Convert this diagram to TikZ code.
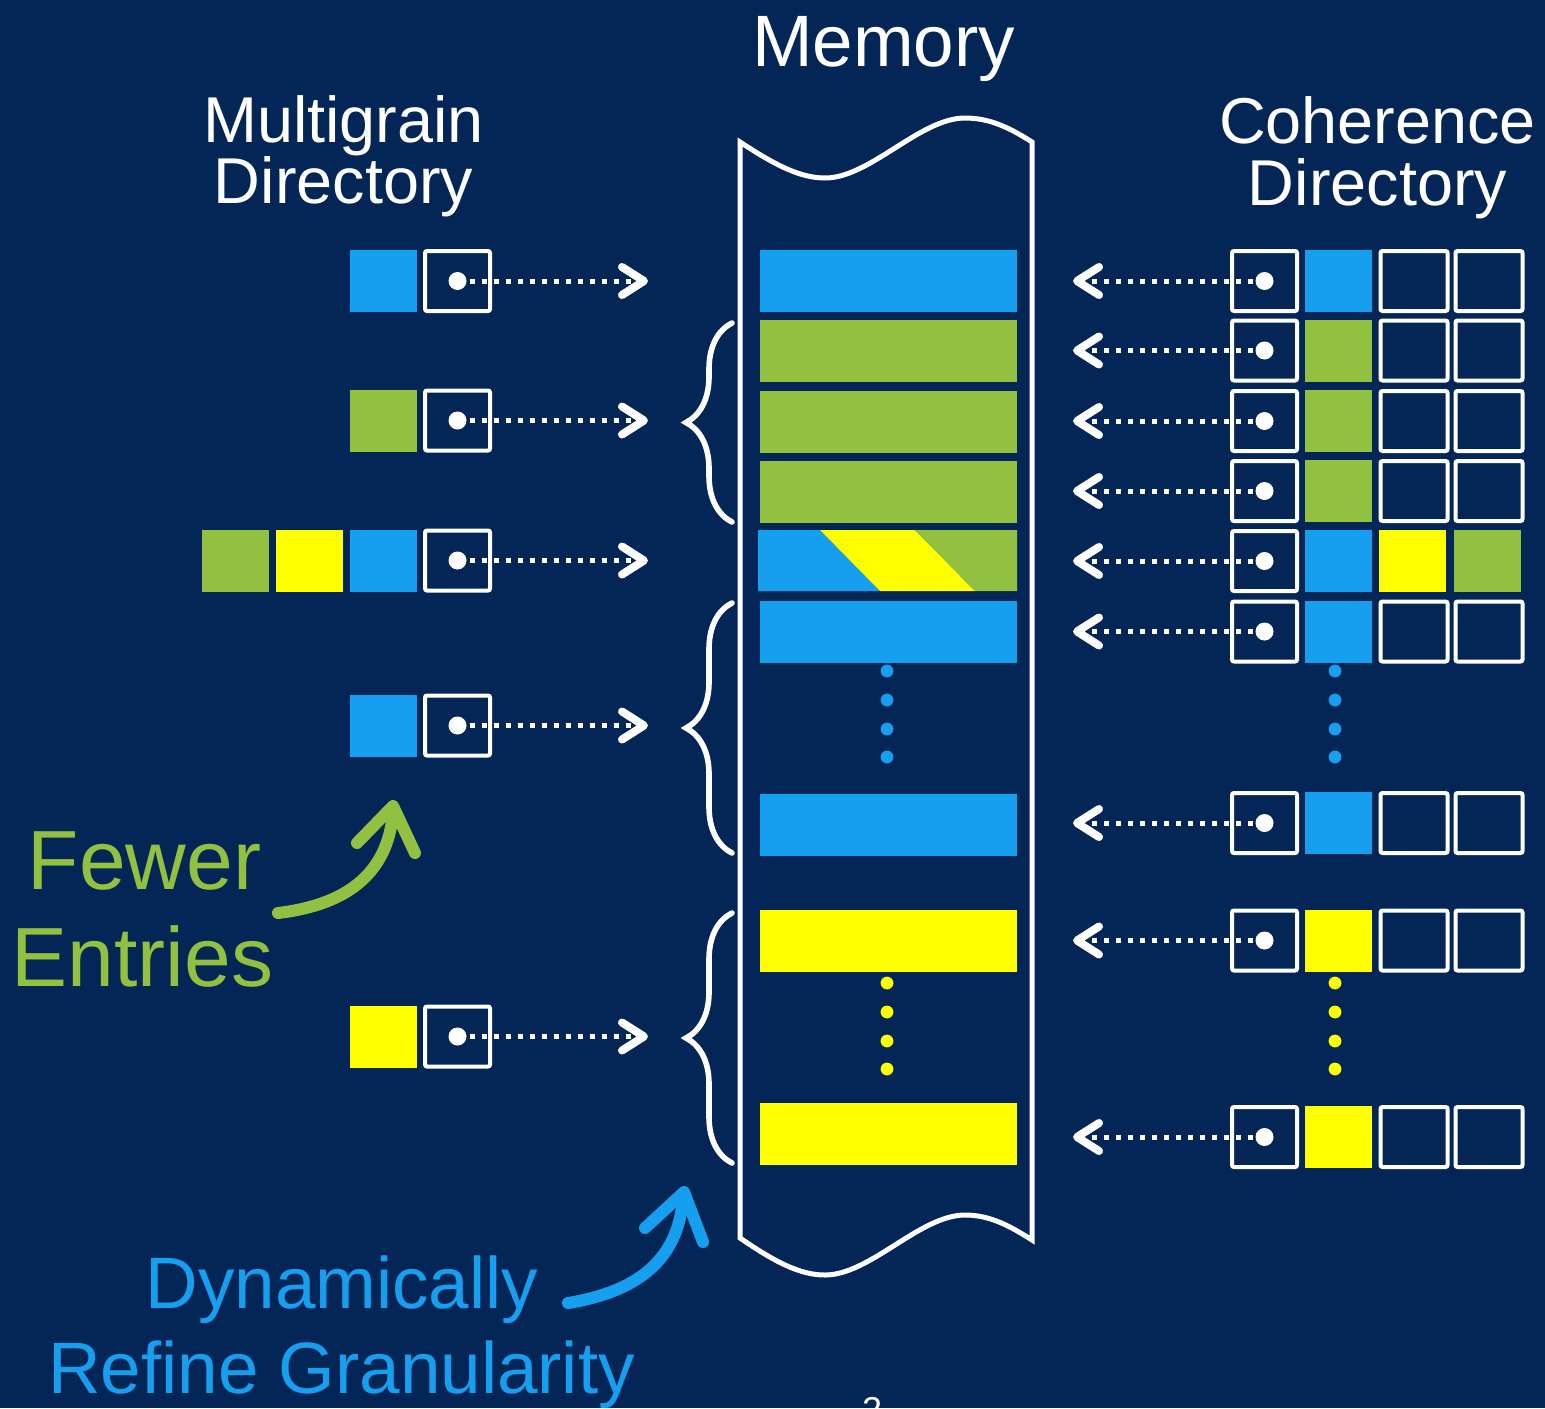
\documentclass[tikz,border=0pt]{standalone}
\usepackage{fontspec}
\setmainfont{Liberation Sans}
\usetikzlibrary{arrows.meta,decorations.pathreplacing}

\definecolor{bgnavy}{RGB}{3,38,86}
\definecolor{mblue}{RGB}{21,159,238}
\definecolor{mgreen}{RGB}{146,192,65}
\definecolor{myellow}{RGB}{255,255,0}

\tikzset{
  lbl/.style={anchor=base, inner sep=0pt, text=white},
  blk/.style={minimum width=128.5pt, minimum height=31pt, inner sep=0pt, outer sep=0pt},
  cell/.style={minimum width=33.5pt, minimum height=31pt, inner sep=0pt, outer sep=0pt},
  ptrbox/.style={draw=white, line width=2pt, rounded corners=1pt, minimum width=32.5pt, minimum height=30pt, inner sep=0pt},
  emptybox/.style={ptrbox, minimum width=33.5pt},
  ptr/.style={white, line width=2.5pt, dash pattern=on 2.5pt off 3.5pt,
    -{Straight Barb[length=11pt, width=14pt, line width=4pt, round]}},
  membrace/.style={white, line width=2.8pt, line cap=round, decorate, decoration={brace, amplitude=23pt}},
  scrawl/.style={line width=6pt, line cap=round, line join=round}
}

\begin{document}
\begin{tikzpicture}[x=0.5pt, y=-0.5pt]
  \useasboundingbox[fill=bgnavy] (0,0) rectangle (1545,1408);

  % titles
  \node[lbl, font=\fontsize{36.4pt}{40pt}\selectfont] (memtitle) at (883.5,66) {Memory};
  \node[lbl, font=\fontsize{32.4pt}{36pt}\selectfont] (mgtitlea) at (343.5,142) {Multigrain};
  \node[lbl, font=\fontsize{32.4pt}{36pt}\selectfont] (mgtitleb) at (343.5,203) {Directory};
  \node[lbl, font=\fontsize{32.4pt}{36pt}\selectfont] (cdtitlea) at (1377.5,143) {Coherence};
  \node[lbl, font=\fontsize{32.4pt}{36pt}\selectfont] (cdtitleb) at (1377.5,205) {Directory};

  % memory column
  \draw[white, line width=2.5pt]
    (740,142) .. controls (775,165) and (800,178) .. (825,178)
    .. controls (870,178) and (920,118) .. (965,118)
    .. controls (990,118) and (1010,128) .. (1032,142)
    -- (1032,1240)
    .. controls (1010,1226) and (990,1215) .. (965,1215)
    .. controls (920,1215) and (870,1275) .. (825,1275)
    .. controls (800,1275) and (775,1262) .. (740,1238) -- cycle;

  % memory blocks
  \foreach \n/\y/\c in {1/281/mblue, 2/350.5/mgreen, 3/421.5/mgreen, 4/491.5/mgreen,
                        6/631.5/mblue, 7/825/mblue, 8/940.5/myellow, 9/1134/myellow}
    \node[blk, fill=\c] (m\n) at (888.5,\y) {};
  \node[blk, minimum width=129.5pt] (m5) at (887.5,560.5) {};
  \fill[mblue] (758,530) -- (820,530) -- (880,591) -- (758,591) -- cycle;
  \fill[myellow] (820,530) -- (915,530) -- (975,591) -- (880,591) -- cycle;
  \fill[mgreen] (915,530) -- (1017,530) -- (1017,591) -- (975,591) -- cycle;

  \foreach \y in {671,700,729,757} {
    \fill[mblue] (887,\y) circle (3.2pt);
    \fill[mblue] (1335,\y) circle (3.2pt);
  }
  \foreach \y in {983,1012,1041,1069} {
    \fill[myellow] (887,\y) circle (3.2pt);
    \fill[myellow] (1335,\y) circle (3.2pt);
  }

  % braces
  \draw[membrace] (732,522) -- (732,323);
  \draw[membrace] (732,853) -- (732,603);
  \draw[membrace] (732,1163) -- (732,913);

  % multigrain directory
  \foreach \n/\y/\c in {1/281/mblue, 2/420.5/mgreen, 3/560.5/mblue, 4/725.5/mblue, 5/1036.5/myellow} {
    \node[cell, fill=\c] (mc\n) at (383.5,\y) {};
    \node[ptrbox] (mp\n) at (457.5,\y) {};
    \coordinate (ma\n) at (648,\y);
    \draw[ptr] (mp\n.center) -- (ma\n);
    \fill[white] (mp\n.center) circle (4.5pt);
  }
  \node[cell, fill=mgreen] (mc3a) at (235,560.5) {};
  \node[cell, fill=myellow] (mc3b) at (309,560.5) {};

  % coherence directory
  \foreach \n/\y/\c in {1/281/mblue, 2/350.5/mgreen, 3/421/mgreen, 4/491/mgreen, 5/561/mblue,
                        6/631.5/mblue, 7/823/mblue, 8/940.5/myellow, 9/1137/myellow} {
    \node[ptrbox] (cp\n) at (1264.5,\y) {};
    \node[cell, fill=\c] (cc\n) at (1338.5,\y) {};
    \coordinate (ca\n) at (1073,\y);
    \draw[ptr] (cp\n.center) -- (ca\n);
    \fill[white] (cp\n.center) circle (4.5pt);
  }
  \foreach \n/\y in {1/281, 2/350.5, 3/421, 4/491, 6/631.5, 7/823, 8/940.5, 9/1137} {
    \node[emptybox] (ce\n a) at (1414,\y) {};
    \node[emptybox] (ce\n b) at (1489,\y) {};
  }
  \node[cell, fill=myellow] (ce5a) at (1412.5,561) {};
  \node[cell, fill=mgreen] (ce5b) at (1487.5,561) {};

  % notes
  \node[lbl, text=mgreen, font=\fontsize{42pt}{46pt}\selectfont] (fewera) at (144.5,889) {Fewer};
  \node[lbl, text=mgreen, font=\fontsize{42pt}{46pt}\selectfont] (fewerb) at (142.5,986) {Entries};
  \draw[scrawl, mgreen] (278,913) .. controls (345,905) and (388,875) .. (393,812);
  \draw[scrawl, mgreen] (357,843) -- (393,806) -- (415,853);

  \node[lbl, text=mblue, font=\fontsize{36.4pt}{40pt}\selectfont] (refinea) at (342,1308) {Dynamically};
  \node[lbl, text=mblue, font=\fontsize{36.4pt}{40pt}\selectfont] (refineb) at (341.5,1393) {Refine Granularity};
  \draw[scrawl, mblue] (568,1303) .. controls (635,1292) and (678,1262) .. (683,1198);
  \draw[scrawl, mblue] (645,1228) -- (684,1192) -- (703,1242);

  \node[anchor=north, inner sep=0pt, text=white, font=\fontsize{18pt}{20pt}\selectfont] (pagenum) at (872,1397) {2};
\end{tikzpicture}
\end{document}
